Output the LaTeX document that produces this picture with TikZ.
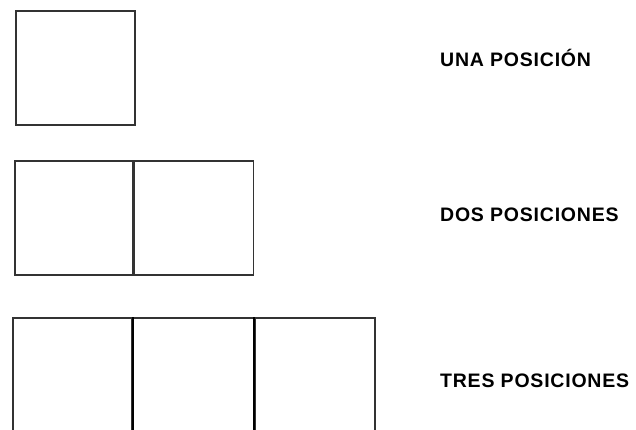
\documentclass[tikz,border=0pt]{standalone}
\usepackage{fontspec}
\setmainfont{Liberation Sans}
\newfontfamily\labelfont[LetterSpace=4]{Liberation Sans}
\usepackage{tikz}
\usetikzlibrary{positioning}

\begin{document}
\begin{tikzpicture}[x=1pt,y=-1pt,
	posbox/.style={draw=black!80,line width=1.6pt,minimum width=119pt,minimum height=114pt,inner sep=0pt},
	poslabel/.style={anchor=base west,inner sep=0pt,font=\labelfont\bfseries\fontsize{19.5}{20}\selectfont}]
		\clip (0,0) rectangle (636,430);
		% una posicion
		\node[posbox,anchor=north west] (u1) at (15,10) {};
		% dos posiciones
		\node[posbox,anchor=north west,minimum width=118pt] (d1) at (14,160) {};
		\node[posbox,anchor=west] (d2) at (d1.east) {};
		% tres posiciones
		\node[posbox,anchor=north west] (t1) at (12,317) {};
		\node[posbox,anchor=west,minimum width=120pt] (t2) at (t1.east) {};
		\node[posbox,anchor=west,minimum width=120pt] (t3) at (t2.east) {};
		\draw[line width=2.2pt] (t2.north west) -- (t2.south west) (t3.north west) -- (t3.south west);
		% textos
		\node[poslabel] (lu) at (440,67) {UNA POSICIÓN};
		\node[poslabel] (ld) at (440,221) {DOS POSICIONES};
		\node[poslabel] (lt) at (440,387) {TRES POSICIONES};
	\end{tikzpicture}
\end{document}
